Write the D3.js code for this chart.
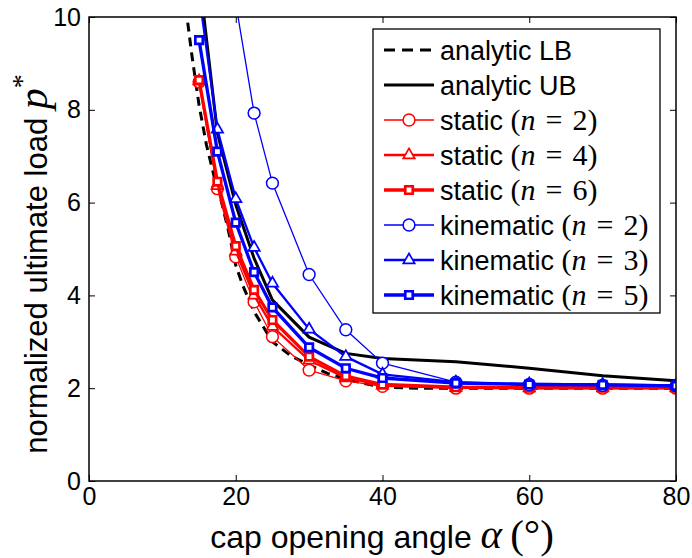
<!DOCTYPE html>
<html>
<head>
<meta charset="utf-8">
<script src="https://cdn.jsdelivr.net/npm/d3@7"></script>
<style>
  body { margin: 0; background: #fff; }
  text { font-family: "Liberation Sans", Arial, sans-serif; }
  .math { font-family: "Liberation Serif", "DejaVu Serif", serif; }
</style>
</head>
<body>
<div id="chart"></div>
<script>
const width = 692;
const height = 558;
const margin = {top: 17, right: 16, bottom: 77, left: 89};

const xTicks = [0, 20, 40, 60, 80];
const yTicks = [0, 2, 4, 6, 8, 10];

// analytic bounds
const lbAlpha = [13.2, 14, 15, 16, 17, 18, 19, 20, 21, 22.5, 25, 27.5, 30, 32.5, 35, 37.5, 40, 45, 50, 60, 70, 80];
const lbLoad = [10.2, 9.2, 8.1, 7.25, 6.6, 6.05, 5.4, 4.65, 4.2, 3.65, 3.0, 2.7, 2.5, 2.32, 2.2, 2.1, 2.02, 2.0, 2.0, 2.0, 2.0, 2.0];
const ubAlpha = [15, 17.5, 20, 22.5, 25, 30, 35, 40, 50, 60, 70, 80];
const ubLoad = [10.9, 7.5, 5.95, 4.8, 3.9, 3.1, 2.75, 2.64, 2.57, 2.43, 2.27, 2.16];

// numerical results
const alpha = [15, 17.5, 20, 22.5, 25, 30, 35, 40, 50, 60, 70, 80];
const staticN2 = [8.6, 6.3, 4.83, 3.86, 3.11, 2.39, 2.16, 2.04, 2.0, 2.0, 2.0, 2.0];
const staticN4 = [8.62, 6.36, 4.95, 4.0, 3.33, 2.6, 2.22, 2.06, 2.01, 2.0, 2.0, 2.0];
const staticN6 = [8.64, 6.45, 5.06, 4.12, 3.47, 2.68, 2.26, 2.08, 2.02, 2.01, 2.01, 2.01];
const kinAlpha2 = [20, 22.5, 25, 30, 35, 40, 50, 60, 70, 80];
const kinN2 = [10.3, 7.93, 6.42, 4.45, 3.26, 2.54, 2.13, 2.08, 2.06, 2.05];
const kinN3 = [10.5, 7.58, 6.08, 5.03, 4.26, 3.27, 2.68, 2.3, 2.13, 2.09, 2.08, 2.06];
const kinN5 = [9.5, 7.1, 5.57, 4.5, 3.74, 2.88, 2.43, 2.22, 2.11, 2.08, 2.07, 2.05];

const series = [
  {name: 'analytic LB', xs: lbAlpha, ys: lbLoad, color: '#000', w: 3, dash: '9,6', marker: null},
  {name: 'analytic UB', xs: ubAlpha, ys: ubLoad, color: '#000', w: 3, dash: null, marker: null},
  {name: 'static', n: 2, xs: alpha, ys: staticN2, color: '#ff0000', w: 1.3, marker: 'circle'},
  {name: 'static', n: 4, xs: alpha, ys: staticN4, color: '#ff0000', w: 2.3, marker: 'triangle'},
  {name: 'static', n: 6, xs: alpha, ys: staticN6, color: '#ff0000', w: 3.3, marker: 'square'},
  {name: 'kinematic', n: 2, xs: kinAlpha2, ys: kinN2, color: '#0000ff', w: 1.3, marker: 'circle'},
  {name: 'kinematic', n: 3, xs: alpha, ys: kinN3, color: '#0000ff', w: 2.3, marker: 'triangle'},
  {name: 'kinematic', n: 5, xs: alpha, ys: kinN5, color: '#0000ff', w: 3.3, marker: 'square'}
];

const x = d3.scaleLinear().domain([0, 80]).range([margin.left, width - margin.right]);
const y = d3.scaleLinear().domain([0, 10]).range([height - margin.bottom, margin.top]);

const svg = d3.select('#chart').append('svg')
  .attr('width', width)
  .attr('height', height);

svg.append('defs').append('clipPath')
  .attr('id', 'plotClip')
  .append('rect')
  .attr('x', margin.left)
  .attr('y', margin.top)
  .attr('width', width - margin.left - margin.right)
  .attr('height', height - margin.top - margin.bottom);

// inward ticks on all four sides
function styleAxis(g) {
  g.select('.domain').remove();
  g.selectAll('.tick line').attr('stroke', '#000').attr('stroke-width', 1);
  g.selectAll('.tick text').attr('fill', '#000').style('font-size', '25px');
}

svg.append('g')
  .attr('transform', 'translate(0,' + (height - margin.bottom) + ')')
  .call(d3.axisBottom(x).tickValues(xTicks).tickSize(-6).tickPadding(6).tickFormat(d3.format('d')))
  .call(styleAxis);
svg.append('g')
  .attr('transform', 'translate(0,' + margin.top + ')')
  .call(d3.axisTop(x).tickValues(xTicks).tickSize(-6).tickFormat(''))
  .call(styleAxis);
svg.append('g')
  .attr('transform', 'translate(' + margin.left + ',0)')
  .call(d3.axisLeft(y).tickValues(yTicks).tickSize(-6).tickPadding(8).tickFormat(d3.format('d')))
  .call(styleAxis);
svg.append('g')
  .attr('transform', 'translate(' + (width - margin.right) + ',0)')
  .call(d3.axisRight(y).tickValues(yTicks).tickSize(-6).tickFormat(''))
  .call(styleAxis);

const plot = svg.append('g').attr('clip-path', 'url(#plotClip)');

const line = d3.line()
  .x(function(d) { return x(d[0]); })
  .y(function(d) { return y(d[1]); });

function markerPath(type) {
  if (type === 'circle') return d3.symbol(d3.symbolCircle, 110)();
  if (type === 'triangle') return d3.symbol(d3.symbolTriangle, 56)();
  return d3.symbol(d3.symbolSquare, 56)();
}

function drawMarker(g, type, cx, cy, s) {
  g.append('path')
    .attr('d', markerPath(type))
    .attr('transform', 'translate(' + cx + ',' + cy + ')')
    .attr('fill', '#fff')
    .attr('stroke', s.color)
    .attr('stroke-width', type === 'circle' ? 1.5 : Math.max(s.w - 0.6, 1.5));
}

series.forEach(function(s) {
  const pts = s.xs.map(function(a, i) { return [a, s.ys[i]]; });
  plot.append('path')
    .datum(pts)
    .attr('fill', 'none')
    .attr('stroke', s.color)
    .attr('stroke-width', s.w)
    .attr('stroke-dasharray', s.dash)
    .attr('d', line);
  if (s.marker) {
    pts.forEach(function(p) {
      drawMarker(plot, s.marker, x(p[0]), y(p[1]), s);
    });
  }
});

// plot frame
svg.append('rect')
  .attr('x', margin.left)
  .attr('y', margin.top)
  .attr('width', width - margin.left - margin.right)
  .attr('height', height - margin.top - margin.bottom)
  .attr('fill', 'none')
  .attr('stroke', '#000')
  .attr('stroke-width', 1.5);

// legend
const legend = svg.append('g');
const legX = 373, legY = 29, legW = 287, legH = 284;
legend.append('rect')
  .attr('x', legX).attr('y', legY)
  .attr('width', legW).attr('height', legH)
  .attr('fill', '#fff')
  .attr('stroke', '#000')
  .attr('stroke-width', 1.3);

series.forEach(function(s, i) {
  const ry = 50 + i * 35;
  legend.append('line')
    .attr('x1', 384).attr('x2', 434)
    .attr('y1', ry).attr('y2', ry)
    .attr('stroke', s.color)
    .attr('stroke-width', s.w)
    .attr('stroke-dasharray', s.dash ? '11,7' : null);
  if (s.marker) drawMarker(legend, s.marker, 409, ry, s);
  const t = legend.append('text')
    .attr('x', 440)
    .attr('y', ry + 10)
    .style('font-size', '27px');
  t.append('tspan').text(s.name);
  if (s.n !== undefined) {
    t.append('tspan').attr('class', 'math').style('font-size', '30px').text(' (');
    t.append('tspan').attr('class', 'math').style('font-style', 'italic').style('font-size', '30px').text('n');
    t.append('tspan').attr('class', 'math').style('font-size', '30px').attr('dx', 10).text('=');
    t.append('tspan').attr('class', 'math').style('font-size', '30px').attr('dx', 10).text(s.n + ')');
  }
});

// axis titles
const xl = svg.append('text')
  .attr('x', 382)
  .attr('y', 548)
  .attr('text-anchor', 'middle')
  .style('font-size', '32px');
xl.append('tspan').text('cap opening angle ');
xl.append('tspan').attr('class', 'math').style('font-style', 'italic').style('font-size', '41px').text('α');
xl.append('tspan').attr('class', 'math').style('font-size', '41px').attr('dx', 8).text('(°)');

const yl = svg.append('text')
  .attr('transform', 'translate(47,264) rotate(-90)')
  .attr('text-anchor', 'middle')
  .style('font-size', '31px');
yl.append('tspan').text('normalized ultimate load ');
yl.append('tspan').attr('class', 'math').style('font-style', 'italic').style('font-size', '42px').text('p');
yl.append('tspan').attr('class', 'math').style('font-size', '28px').attr('dy', -16).text('*');
</script>
</body>
</html>
